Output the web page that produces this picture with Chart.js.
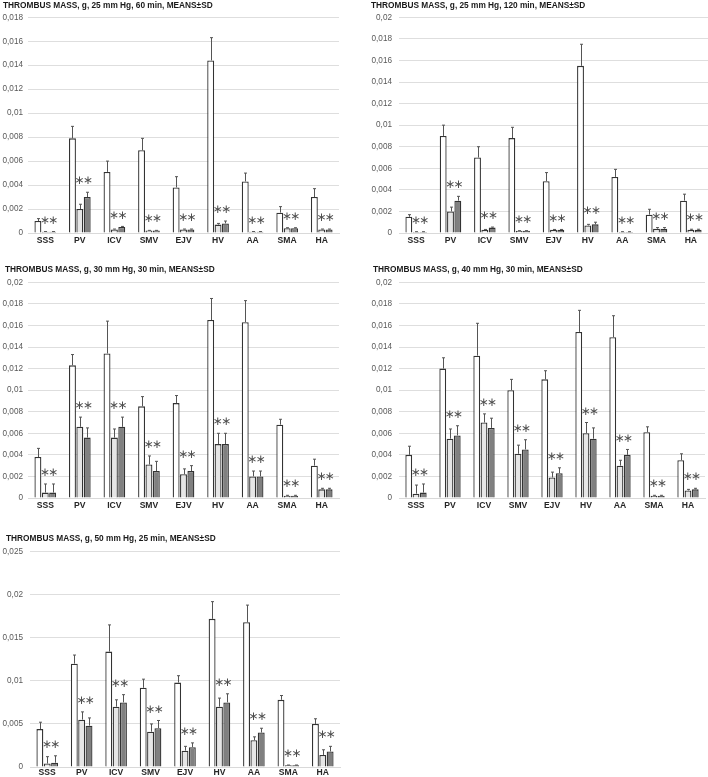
<!DOCTYPE html>
<html>
<head>
<meta charset="utf-8">
<script src="https://cdn.jsdelivr.net/npm/chart.js@4.4.1/dist/chart.umd.min.js"></script>
<style>
  html, body { margin: 0; padding: 0; background: #fff; overflow: hidden; }
  body { width: 708px; height: 777px; position: relative; }
  canvas { position: absolute; }
</style>
</head>
<body>
<canvas id="c1"></canvas>
<canvas id="c2"></canvas>
<canvas id="c3"></canvas>
<canvas id="c4"></canvas>
<canvas id="c5"></canvas>
<script>
// vessel names on the x axis
const categories = ['SSS', 'PV', 'ICV', 'SMV', 'EJV', 'HV', 'AA', 'SMA', 'HA'];

const titles = [
  'THROMBUS MASS, g, 25 mm Hg, 60 min, MEANS±SD',
  'THROMBUS MASS, g, 25 mm Hg, 120 min, MEANS±SD',
  'THROMBUS MASS, g, 30 mm Hg, 30 min, MEANS±SD',
  'THROMBUS MASS, g, 40 mm Hg, 30 min, MEANS±SD',
  'THROMBUS MASS, g, 50 mm Hg, 25 min, MEANS±SD'
];
// y axis top and tick step of every panel
const yMax = [0.018, 0.02, 0.02, 0.02, 0.025];
const yStep = [0.002, 0.002, 0.002, 0.002, 0.005];

// panel 1: 25 mm Hg, 60 min
const p1White = [0.001, 0.0079, 0.0051, 0.0069, 0.0038, 0.0144, 0.0043, 0.0017, 0.003];
const p1WhiteSd = [0.0002, 0.001, 0.0009, 0.001, 0.0009, 0.0019, 0.0007, 0.0005, 0.0007];
const p1Light = [0.0001, 0.002, 0.0003, 0.0002, 0.0003, 0.0007, 0.0001, 0.0004, 0.0003];
const p1LightSd = [0.00002, 0.0004, 0.00003, 0.00002, 0.00003, 0.0001, 0.00002, 0.00004, 0.00003];
const p1Dark = [0.0001, 0.003, 0.0005, 0.0002, 0.0003, 0.0008, 0.0001, 0.0004, 0.0003];
const p1DarkSd = [0.00002, 0.0004, 0.00005, 0.00002, 0.00003, 0.0002, 0.00002, 0.00004, 0.00003];

// panel 2: 25 mm Hg, 120 min
const p2White = [0.0015, 0.009, 0.007, 0.0088, 0.0048, 0.0155, 0.0052, 0.0017, 0.003];
const p2WhiteSd = [0.0002, 0.001, 0.001, 0.001, 0.0008, 0.002, 0.0007, 0.0005, 0.0006];
const p2Light = [0.0001, 0.002, 0.0003, 0.0002, 0.0003, 0.0007, 0.0001, 0.0004, 0.0003];
const p2LightSd = [0.00002, 0.0004, 0.00003, 0.00002, 0.00003, 0.0001, 0.00002, 0.0001, 0.00005];
const p2Dark = [0.0001, 0.003, 0.0005, 0.0002, 0.0003, 0.0008, 0.0001, 0.0004, 0.0003];
const p2DarkSd = [0.00002, 0.0004, 0.00005, 0.00002, 0.00003, 0.0002, 0.00002, 0.0001, 0.00005];

// panel 3: 30 mm Hg, 30 min
const p3White = [0.0038, 0.0123, 0.0134, 0.0085, 0.0088, 0.0165, 0.0163, 0.0068, 0.003];
const p3WhiteSd = [0.0008, 0.001, 0.003, 0.0009, 0.0007, 0.002, 0.002, 0.0005, 0.0006];
const p3Light = [0.0005, 0.0066, 0.0056, 0.0031, 0.0022, 0.005, 0.002, 0.0002, 0.0008];
const p3LightSd = [0.0008, 0.0009, 0.0008, 0.0008, 0.0005, 0.001, 0.0005, 0.00005, 0.0001];
const p3Dark = [0.0005, 0.0056, 0.0066, 0.0025, 0.0025, 0.005, 0.002, 0.0002, 0.0008];
const p3DarkSd = [0.0008, 0.0009, 0.0009, 0.0009, 0.0005, 0.001, 0.0005, 0.00005, 0.0001];

// panel 4: 40 mm Hg, 30 min
const p4White = [0.004, 0.012, 0.0132, 0.01, 0.011, 0.0154, 0.0149, 0.0061, 0.0035];
const p4WhiteSd = [0.0008, 0.001, 0.003, 0.001, 0.0008, 0.002, 0.002, 0.0005, 0.0006];
const p4Light = [0.0004, 0.0055, 0.007, 0.0041, 0.0019, 0.006, 0.003, 0.0002, 0.0007];
const p4LightSd = [0.0008, 0.0009, 0.0008, 0.0008, 0.0005, 0.001, 0.0005, 0.00005, 0.0001];
const p4Dark = [0.0005, 0.0058, 0.0065, 0.0045, 0.0023, 0.0055, 0.004, 0.0002, 0.0008];
const p4DarkSd = [0.0008, 0.0009, 0.0009, 0.0009, 0.0005, 0.001, 0.0005, 0.00005, 0.0001];

// panel 5: 50 mm Hg, 25 min
const p5White = [0.0044, 0.012, 0.0134, 0.0092, 0.0098, 0.0172, 0.0168, 0.0078, 0.005];
const p5WhiteSd = [0.0008, 0.001, 0.0031, 0.001, 0.0008, 0.002, 0.002, 0.0005, 0.0006];
const p5Light = [0.0004, 0.0055, 0.007, 0.0041, 0.0019, 0.007, 0.0031, 0.0002, 0.0014];
const p5LightSd = [0.0008, 0.0009, 0.0008, 0.0009, 0.0005, 0.001, 0.0004, 0.00003, 0.0006];
const p5Dark = [0.0005, 0.0048, 0.0075, 0.0045, 0.0023, 0.0075, 0.004, 0.0002, 0.0018];
const p5DarkSd = [0.0008, 0.0009, 0.0009, 0.0009, 0.0005, 0.001, 0.0005, 0.00003, 0.0006];

const series = [
  [p1White, p1WhiteSd, p1Light, p1LightSd, p1Dark, p1DarkSd],
  [p2White, p2WhiteSd, p2Light, p2LightSd, p2Dark, p2DarkSd],
  [p3White, p3WhiteSd, p3Light, p3LightSd, p3Dark, p3DarkSd],
  [p4White, p4WhiteSd, p4Light, p4LightSd, p4Dark, p4DarkSd],
  [p5White, p5WhiteSd, p5Light, p5LightSd, p5Dark, p5DarkSd]
];

// where every panel sits on the page (pixels)
const layouts = [
  { left: 0, titleY: 6, titleX: 3, plotLeft: 28, plotRight: 339, plotTop: 17.3, plotBottom: 232.7, labelRight: 23, xPad: 2 },
  { left: 354, titleY: 6, titleX: 371, plotLeft: 399, plotRight: 708, plotTop: 17.3, plotBottom: 232.7, labelRight: 392, xPad: 2 },
  { left: 0, titleY: 270, titleX: 5, plotLeft: 28, plotRight: 339, plotTop: 282.3, plotBottom: 497.3, labelRight: 23, xPad: 2 },
  { left: 354, titleY: 270, titleX: 373, plotLeft: 399, plotRight: 705, plotTop: 282.3, plotBottom: 497.3, labelRight: 392, xPad: 2 },
  { left: 0, titleY: 539, titleX: 6, plotLeft: 30, plotRight: 340, plotTop: 551.7, plotBottom: 766.7, labelRight: 23, xPad: 0 }
];

const FONT = "'Liberation Sans', Arial, sans-serif";
const X_AXIS_H = 14;

function formatTick(v) {
  if (v === 0) return '0';
  return String(+v.toFixed(4)).replace('.', ',');
}

// panel heading, left aligned at a fixed x
const panelTitle = {
  id: 'panelTitle',
  afterDraw(chart, args, opts) {
    const ctx = chart.ctx;
    ctx.save();
    ctx.fillStyle = '#1a1a1a';
    ctx.font = 'bold 8.3px ' + FONT;
    ctx.textAlign = 'left';
    ctx.textBaseline = 'middle';
    ctx.fillText(opts.text, opts.x, opts.y);
    ctx.restore();
  }
};

// draws the SD whiskers above each bar
const errorBars = {
  id: 'errorBars',
  afterDatasetsDraw(chart) {
    const ctx = chart.ctx;
    const y = chart.scales.y;
    ctx.save();
    ctx.strokeStyle = '#555';
    ctx.lineWidth = 1;
    chart.data.datasets.forEach((ds, i) => {
      const meta = chart.getDatasetMeta(i);
      meta.data.forEach((bar, j) => {
        const x = Math.round(bar.x) + 0.5;
        const top = y.getPixelForValue(ds.data[j] + ds.sd[j]);
        ctx.beginPath();
        ctx.moveTo(x, bar.y);
        ctx.lineTo(x, top);
        ctx.moveTo(x - 1.5, top);
        ctx.lineTo(x + 1.5, top);
        ctx.stroke();
      });
    });
    ctx.restore();
  }
};

// the two asterisks over the second and third bar of each group
const asterisks = {
  id: 'asterisks',
  afterDatasetsDraw(chart) {
    const ctx = chart.ctx;
    const y = chart.scales.y;
    const sets = chart.data.datasets;
    ctx.save();
    ctx.fillStyle = '#4d4d4d';
    ctx.font = "12px 'DejaVu Sans'";
    ctx.textAlign = 'center';
    ctx.textBaseline = 'middle';
    categories.forEach((c, j) => {
      const top = Math.min(
        y.getPixelForValue(sets[1].data[j] + sets[1].sd[j]),
        y.getPixelForValue(sets[2].data[j] + sets[2].sd[j])
      );
      [1, 2].forEach(i => {
        const bar = chart.getDatasetMeta(i).data[j];
        ctx.fillText('\u2217', bar.x + (i === 1 ? -0.5 : 0.5), top - 11);
      });
    });
    ctx.restore();
  }
};

function makePanel(k) {
  const L = layouts[k];
  const [white, whiteSd, light, lightSd, dark, darkSd] = series[k];
  const canvas = document.getElementById('c' + (k + 1));
  const top = L.titleY - 6;
  canvas.width = 354;
  canvas.height = Math.ceil(L.plotBottom - top + X_AXIS_H);
  canvas.style.left = L.left + 'px';
  canvas.style.top = top + 'px';

  const bar = { borderColor: '#333333', borderWidth: 1.3, categoryPercentage: 0.64, barPercentage: 0.94 };
  new Chart(canvas.getContext('2d'), {
    type: 'bar',
    data: {
      labels: categories,
      datasets: [
        { ...bar, data: white, sd: whiteSd, backgroundColor: '#ffffff' },
        { ...bar, data: light, sd: lightSd, backgroundColor: '#e6e6e6' },
        { ...bar, data: dark, sd: darkSd, backgroundColor: '#808080' }
      ]
    },
    options: {
      responsive: false,
      animation: false,
      layout: {
        padding: { left: 0, right: L.left + 354 - L.plotRight, top: L.plotTop - top, bottom: 0 }
      },
      plugins: {
        legend: { display: false },
        tooltip: { enabled: false },
        title: { display: false },
        panelTitle: { text: titles[k], x: L.titleX - L.left, y: L.titleY - top }
      },
      scales: {
        x: {
          grid: { display: false, drawTicks: false },
          border: { color: '#d9d9d9' },
          ticks: { color: '#262626', font: { family: FONT, size: 8.6, weight: 'bold' }, padding: L.xPad, autoSkip: false, maxRotation: 0 },
          afterFit: s => { s.height = X_AXIS_H; }
        },
        y: {
          min: 0,
          max: yMax[k],
          grid: { color: '#dedede', drawTicks: false },
          border: { display: false },
          ticks: {
            stepSize: yStep[k],
            color: '#595959',
            font: { family: FONT, size: 8.2 },
            padding: L.plotLeft - L.labelRight,
            callback: v => formatTick(v)
          },
          afterFit: s => { s.width = L.plotLeft - L.left; }
        }
      }
    },
    plugins: [errorBars, asterisks, panelTitle]
  });
}

for (let k = 0; k < 5; k++) makePanel(k);
</script>
</body>
</html>
